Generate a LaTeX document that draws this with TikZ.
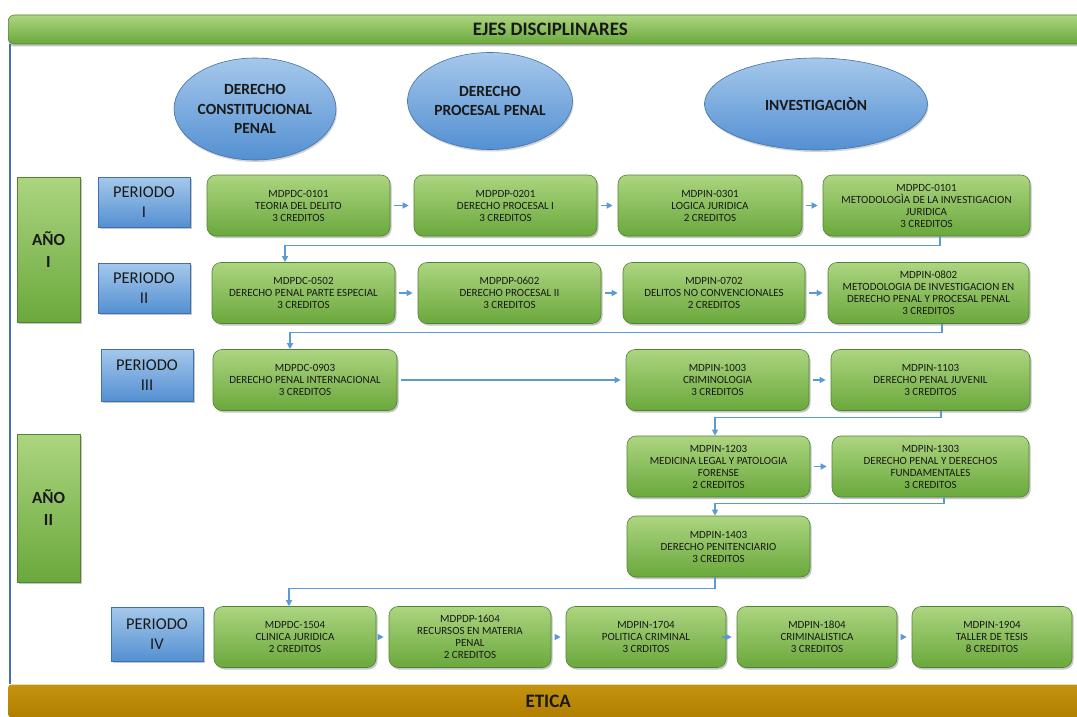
\documentclass[tikz,border=0pt]{standalone}
\usepackage{fontspec}
\setmainfont{Carlito}
\usetikzlibrary{shapes.geometric,arrows.meta,shadows,calc}
\definecolor{gTop}{RGB}{172,213,128}
\definecolor{gBot}{RGB}{106,168,60}
\definecolor{gLine}{RGB}{84,130,53}
\definecolor{bTop}{RGB}{165,200,235}
\definecolor{bBot}{RGB}{84,144,210}
\definecolor{bLine}{RGB}{65,113,170}
\definecolor{connc}{RGB}{91,155,213}
\definecolor{txt}{RGB}{25,25,25}
\definecolor{goldT}{RGB}{196,148,16}
\definecolor{goldB}{RGB}{176,126,0}
\begin{document}
\begin{tikzpicture}[x=1pt,y=-1pt,
  shad/.style={drop shadow={shadow xshift=1.5pt,shadow yshift=-2pt,fill=black!45}},
  course/.style={draw=gLine, line width=0.6pt, rounded corners=9pt, top color=gTop, bottom color=gBot,
    align=center, inner sep=2pt, minimum height=61pt, text=txt,
    font=\fontsize{11}{12}\selectfont, shad},
  period/.style={draw=bLine, line width=0.6pt, top color=bTop, bottom color=bBot, align=center,
    inner sep=2pt, minimum width=92pt, minimum height=50pt, text=txt,
    font=\fontsize{16.5}{20}\selectfont, shad},
  year/.style={draw=gLine, line width=0.6pt, top color=gTop, bottom color=gBot, align=center,
    inner sep=2pt, minimum width=63pt, text=txt, font=\bfseries\fontsize{17}{22}\selectfont, shad},
  axisn/.style={ellipse, draw=bLine, line width=0.6pt, top color=bTop, bottom color=bBot, align=center,
    inner sep=0pt, text=txt, font=\bfseries\fontsize{15.5}{19.5}\selectfont,
    drop shadow={shadow xshift=1pt,shadow yshift=-2pt,fill=black!35}},
  conn/.style={draw=connc, line width=1.2pt, -{Triangle[length=6pt,width=6pt]}},
  sarr/.style={conn, shorten <=4pt, shorten >=5pt}
]
\useasboundingbox (0,0) rectangle (1077,717);
\fill[white] (0,0) rectangle (1077,717);

% banners
\node[draw=gLine, line width=0.6pt, rounded corners=6pt, top color=gTop, bottom color=gBot,
  minimum width=1084pt, minimum height=29pt, anchor=west, inner sep=0pt,
  font=\bfseries\fontsize{19}{22}\selectfont, text=txt,
  drop shadow={shadow xshift=0pt,shadow yshift=-2.5pt,fill=black!45}] (ejes) at (8,29.5) {EJES DISCIPLINARES};
\node[top color=goldT, bottom color=goldB, rounded corners=3pt, minimum width=1080pt, minimum height=33pt, anchor=west,
  inner sep=0pt, font=\bfseries\fontsize{19}{22}\selectfont, text=txt] (etica) at (8,701) {ETICA};
\draw[bLine, line width=2.2pt] (10,44) -- (10,684);

% axes
\node[axisn, minimum width=154pt, minimum height=102pt] (e1) at (255,109) {DERECHO\\CONSTITUCIONAL\\PENAL};
\node[axisn, minimum width=165pt, minimum height=97pt] (e2) at (490,101) {DERECHO\\PROCESAL PENAL};
\node[axisn, minimum width=223pt, minimum height=92pt] (e3) at (816,104) {INVESTIGACIÒN};

% years
\node[year, minimum height=145pt] (y1) at (48.5,249.5) {AÑO\\I};
\node[year, minimum height=148pt] (y2) at (48.5,508) {AÑO\\II};

% periods
\node[period] (p1) at (144,202) {PERIODO\\I};
\node[period] (p2) at (144,288) {PERIODO\\II};
\node[period, minimum height=52pt] (p3) at (147,375) {PERIODO\\III};
\node[period, minimum height=54pt] (p4) at (157,634) {PERIODO\\IV};

% row 1
\node[course, minimum width=183pt] (r1a) at (298.5,205.5) {MDPDC-0101\\TEORIA DEL DELITO\\3 CREDITOS};
\node[course, minimum width=183pt] (r1b) at (505.5,205.5) {MDPDP-0201\\DERECHO PROCESAL I\\3 CREDITOS};
\node[course, minimum width=184pt] (r1c) at (710,205.5) {MDPIN-0301\\LOGICA JURIDICA\\2 CREDITOS};
\node[course, minimum width=207pt] (r1d) at (926.5,205.5) {MDPDC-0101\\METODOLOGÌA DE LA INVESTIGACION\\JURIDICA\\3 CREDITOS};
% row 2
\node[course, minimum width=183pt] (r2a) at (303.5,293) {MDPDC-0502\\DERECHO PENAL PARTE ESPECIAL\\3 CREDITOS};
\node[course, minimum width=183pt] (r2b) at (509.5,293) {MDPDP-0602\\DERECHO PROCESAL II\\3 CREDITOS};
\node[course, minimum width=182pt] (r2c) at (714,293) {MDPIN-0702\\DELITOS NO CONVENCIONALES\\2 CREDITOS};
\node[course, minimum width=201pt] (r2d) at (928.5,293) {MDPIN-0802\\METODOLOGIA DE INVESTIGACION EN\\DERECHO PENAL Y PROCESAL PENAL\\3 CREDITOS};
% row 3
\node[course, minimum width=184pt] (r3a) at (305,380) {MDPDC-0903\\DERECHO PENAL INTERNACIONAL\\3 CREDITOS};
\node[course, minimum width=183pt] (r3b) at (717.5,380) {MDPIN-1003\\CRIMINOLOGIA\\3 CREDITOS};
\node[course, minimum width=199pt] (r3c) at (930.5,380) {MDPIN-1103\\DERECHO PENAL JUVENIL\\3 CREDITOS};
% row 4
\node[course, minimum width=183pt] (r4a) at (718.5,466.5) {MDPIN-1203\\MEDICINA LEGAL Y PATOLOGIA\\FORENSE\\2 CREDITOS};
\node[course, minimum width=197pt] (r4b) at (930.5,466.5) {MDPIN-1303\\DERECHO PENAL Y DERECHOS\\FUNDAMENTALES\\3 CREDITOS};
% row 5
\node[course, minimum width=183pt] (r5a) at (718.5,546.5) {MDPIN-1403\\DERECHO PENITENCIARIO\\3 CREDITOS};
% row 6
\node[course, minimum width=162pt] (r6a) at (295,637) {MDPDC-1504\\CLINICA JURIDICA\\2 CREDITOS};
\node[course, minimum width=162pt] (r6b) at (470,637) {MDPDP-1604\\RECURSOS EN MATERIA\\PENAL\\2 CREDITOS};
\node[course, minimum width=160pt] (r6c) at (646,637) {MDPIN-1704\\POLITICA CRIMINAL\\3 CRDITOS};
\node[course, minimum width=160pt] (r6d) at (817,637) {MDPIN-1804\\CRIMINALISTICA\\3 CREDITOS};
\node[course, minimum width=160pt] (r6e) at (992,637) {MDPIN-1904\\TALLER DE TESIS\\8 CREDITOS};

% short arrows
\draw[sarr] (r1a) -- (r1b);
\draw[sarr] (r1b) -- (r1c);
\draw[sarr] (r1c) -- (r1d);
\draw[sarr] (r2a) -- (r2b);
\draw[sarr] (r2b) -- (r2c);
\draw[sarr] (r2c) -- (r2d);
\draw[sarr] (r3a) -- (r3b);
\draw[sarr] (r3b) -- (r3c);
\draw[sarr] (r4a) -- (r4b);
\draw[sarr] (r6a) -- (r6b);
\draw[sarr] (r6b) -- (r6c);
\draw[sarr] (r6c) -- (r6d);
\draw[sarr] (r6d) -- (r6e);

% long connectors
\draw[conn] ([xshift=13.5pt]r1d.south) -- ++(0,9) -| ([xshift=-18.5pt]r2a.north);
\draw[conn] ([xshift=13.5pt]r2d.south) -- ++(0,9) -| ([xshift=-15pt]r3a.north);
\draw[conn] ([xshift=10.5pt]r3c.south) -- ++(0,7) -| ([xshift=-3.5pt]r4a.north);
\draw[conn] ([xshift=13.5pt]r4b.south) -- ++(0,6) -| ([xshift=-3.5pt]r5a.north);
\draw[conn] ([xshift=-3.5pt]r5a.south) -- ++(0,11) -| ([xshift=-6pt]r6a.north);
\end{tikzpicture}
\end{document}
